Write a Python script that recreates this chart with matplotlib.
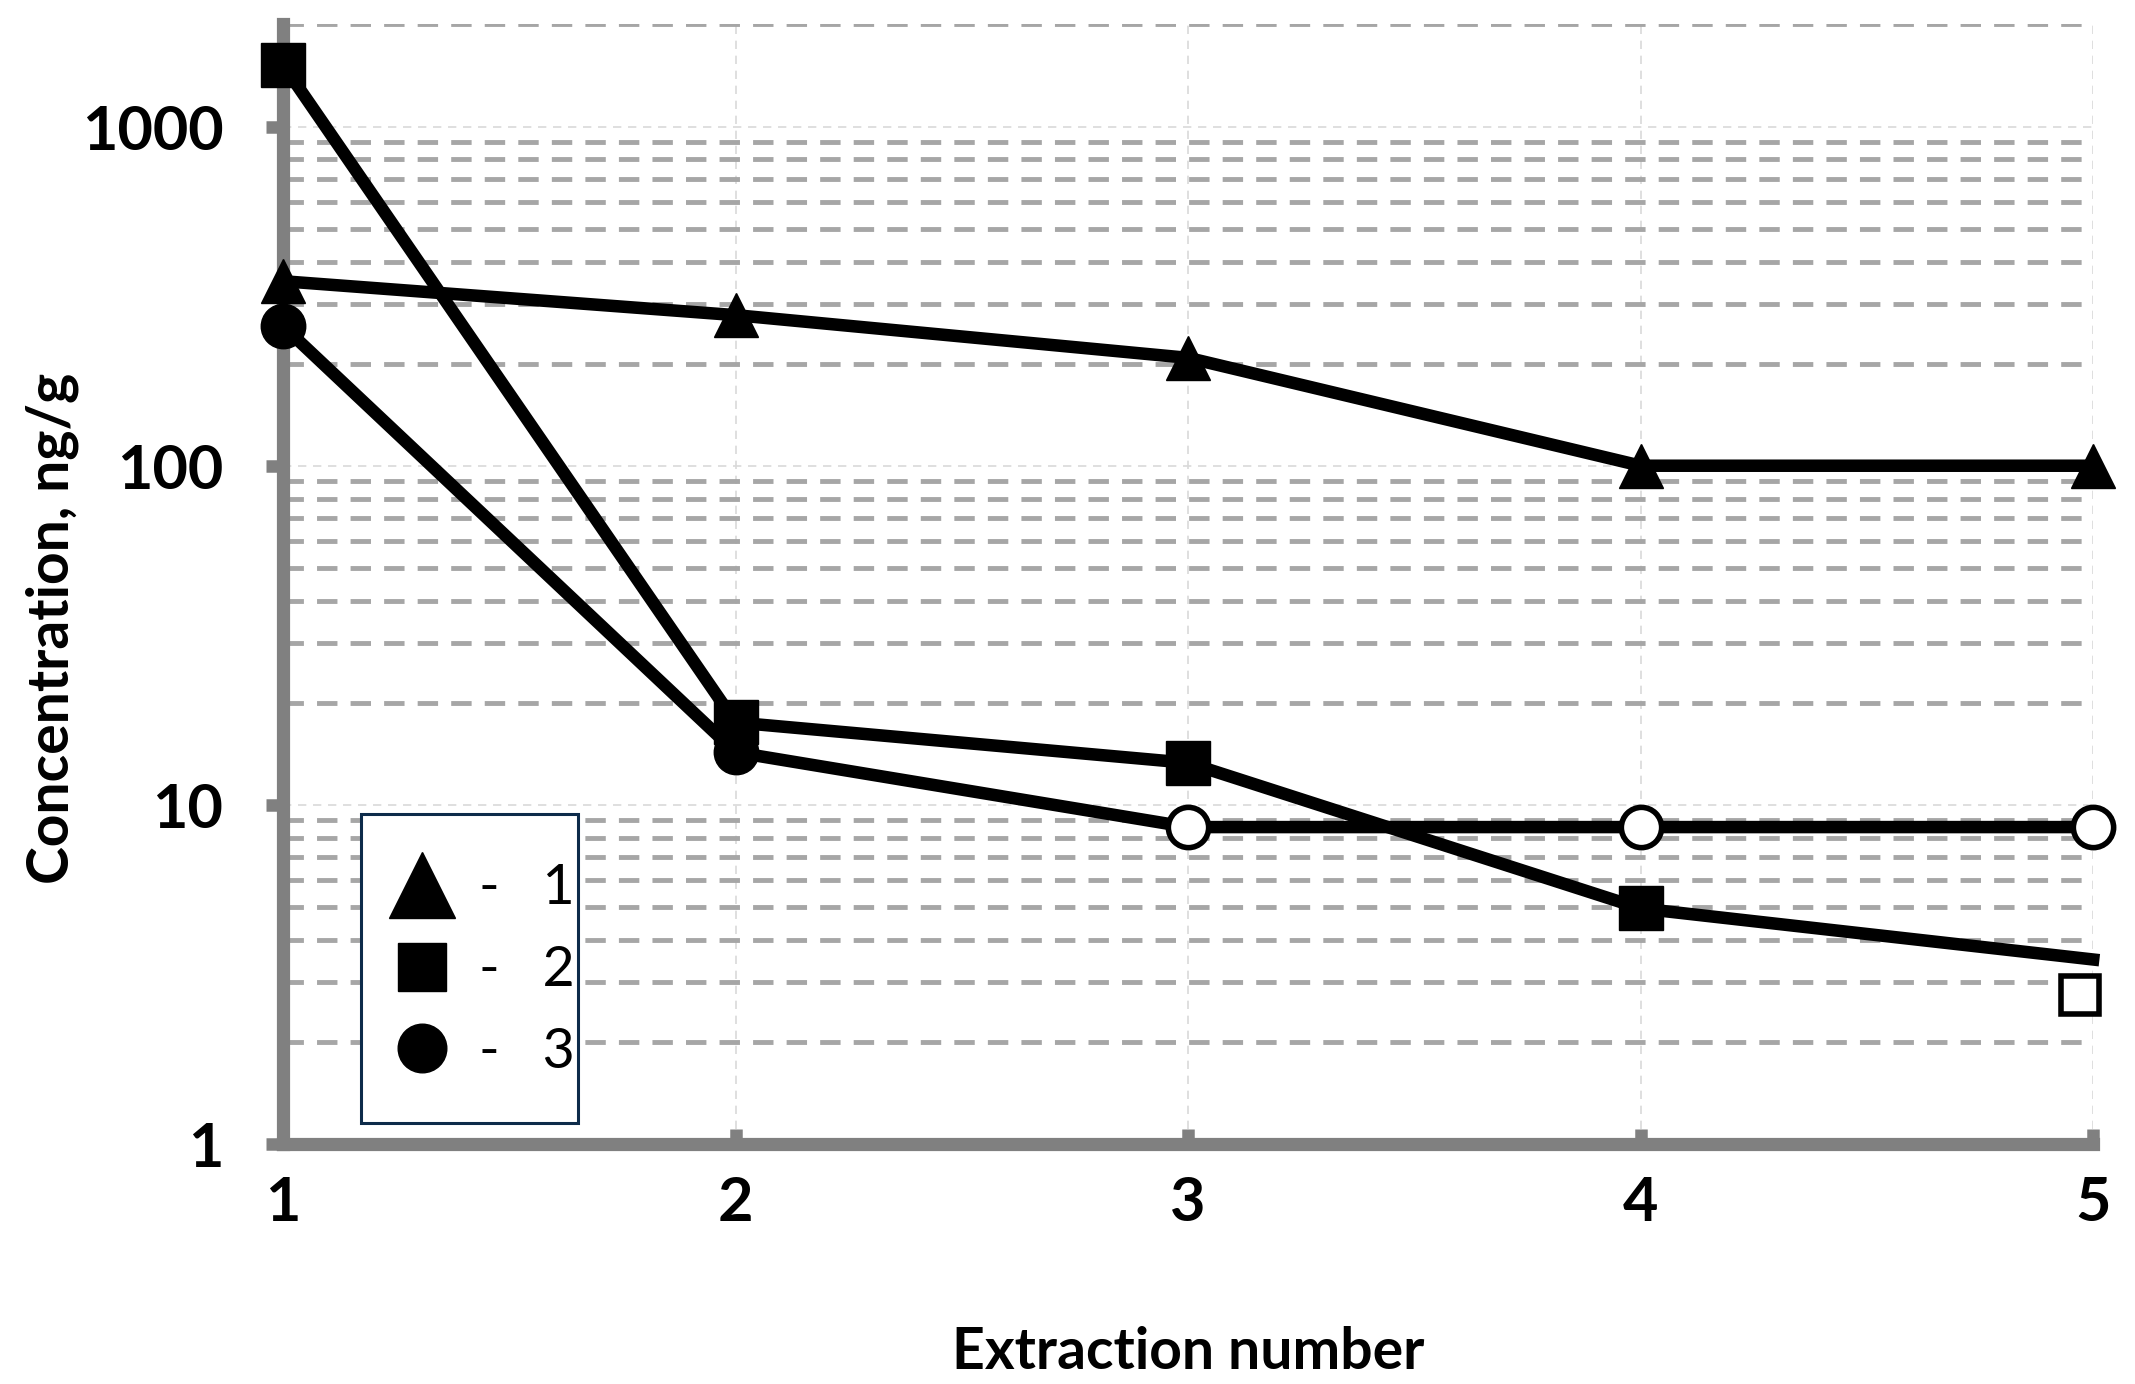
import numpy as np
import matplotlib
matplotlib.use("Agg")
import matplotlib.pyplot as plt
from matplotlib.lines import Line2D
from matplotlib.patches import Rectangle
from matplotlib.ticker import LogLocator, FixedLocator

plt.rcParams['font.family'] = ['Lato', 'DejaVu Sans']

# data
extraction = [1, 2, 3, 4, 5]
conc_1 = [350, 278, 208, 100, 100]          # triangles
conc_2 = [1520, 17.5, 13.3, 4.95, 3.5]       # squares (line), last point has no marker
conc_2_open_x = [4.97]
conc_2_open_y = [2.75]                        # open square near x=5
conc_3 = [258, 14.3, 8.6, 8.6, 8.6]          # circles, open from x=3 on
filled_3 = [0, 1]
open_3 = [2, 3, 4]

ytick_vals = [1, 10, 100, 1000]
ytick_labels = ['1', '10', '100', '1000']
legend_labels = ['-   1', '-   2', '-   3']

fig = plt.figure(figsize=(21.35, 13.84), dpi=100)
ax = fig.add_axes([0.1326, 0.1734, 0.8478, 0.8089])

ax.set_yscale('log')
ax.set_xlim(1, 5)
ax.set_ylim(1, 2000)

# grid
ax.yaxis.set_major_locator(FixedLocator(ytick_vals))
ax.yaxis.set_minor_locator(LogLocator(base=10, subs=np.arange(2, 10)))
ax.grid(True, which='major', axis='both', color='#d9d9d9', linewidth=1.2,
        linestyle=(0, (5, 4)), zorder=0)
ax.grid(True, which='minor', axis='y', color='#a6a6a6', linewidth=3.5,
        linestyle=(0, (4.2, 2.7)), zorder=0)

lw = 9
ms = 32
ax.plot(extraction, conc_1, color='black', linewidth=lw, marker='^',
        markersize=ms, clip_on=False, zorder=5)
ax.plot(extraction, conc_2, color='black', linewidth=lw, marker='s',
        markersize=ms, markevery=[0, 1, 2, 3], clip_on=False, zorder=5)
ax.plot(conc_2_open_x, conc_2_open_y, linestyle='none', marker='s',
        markersize=27, markerfacecolor='white', markeredgecolor='black',
        markeredgewidth=4, clip_on=False, zorder=6)
ax.plot(extraction, conc_3, color='black', linewidth=lw, clip_on=False, zorder=5)
ax.plot([extraction[i] for i in filled_3], [conc_3[i] for i in filled_3],
        linestyle='none', marker='o', markersize=ms, color='black',
        clip_on=False, zorder=6)
ax.plot([extraction[i] for i in open_3], [conc_3[i] for i in open_3],
        linestyle='none', marker='o', markersize=29, markerfacecolor='white',
        markeredgecolor='black', markeredgewidth=4, clip_on=False, zorder=6)

# axes styling
for s in ['top', 'right']:
    ax.spines[s].set_visible(False)
for s in ['left', 'bottom']:
    ax.spines[s].set_color('#808080')
    ax.spines[s].set_linewidth(9.5)
    ax.spines[s].set_zorder(4)

ax.set_xticks(extraction)
ax.set_xticklabels([str(v) for v in extraction])
ax.set_yticklabels(ytick_labels)
ax.tick_params(axis='y', which='major', direction='out', length=12, width=9,
               color='#808080', pad=31, labelsize=44)
ax.tick_params(axis='y', which='minor', length=0)
ax.tick_params(axis='x', which='major', direction='in', length=11, width=9,
               color='#808080', pad=22, labelsize=44)
for lab in ax.get_xticklabels() + ax.get_yticklabels():
    lab.set_fontweight('bold')

ax.set_xlabel('Extraction number', fontsize=41, fontweight='bold')
ax.set_ylabel('Concentration, ng/g', fontsize=41, fontweight='bold')
ax.xaxis.set_label_coords(0.5, -0.163)
ax.yaxis.set_label_coords(-0.113, 0.461)

# legend: box drawn separately so the padding can match the original
box_x, box_y, box_w, box_h = 0.043, 0.019, 0.120, 0.276
frame = Rectangle((box_x, box_y), box_w, box_h, transform=ax.transAxes,
                  facecolor='white', edgecolor='#0d2b4a', linewidth=2.2,
                  zorder=7)
ax.add_patch(frame)

handles = [
    Line2D([], [], linestyle='none', marker='^', markersize=47, color='black'),
    Line2D([], [], linestyle='none', marker='s', markersize=35, color='black'),
    Line2D([], [], linestyle='none', marker='o', markersize=35, color='black'),
]
leg = ax.legend(handles, legend_labels, loc='center',
                bbox_to_anchor=(box_x + box_w / 2, box_y + box_h / 2 - 0.002),
                borderaxespad=0, fontsize=40, frameon=False,
                handlelength=2.05, handletextpad=0.0, labelspacing=0.55,
                borderpad=0.1)
leg.set_zorder(8)

fig.savefig('out.png', dpi=100)
